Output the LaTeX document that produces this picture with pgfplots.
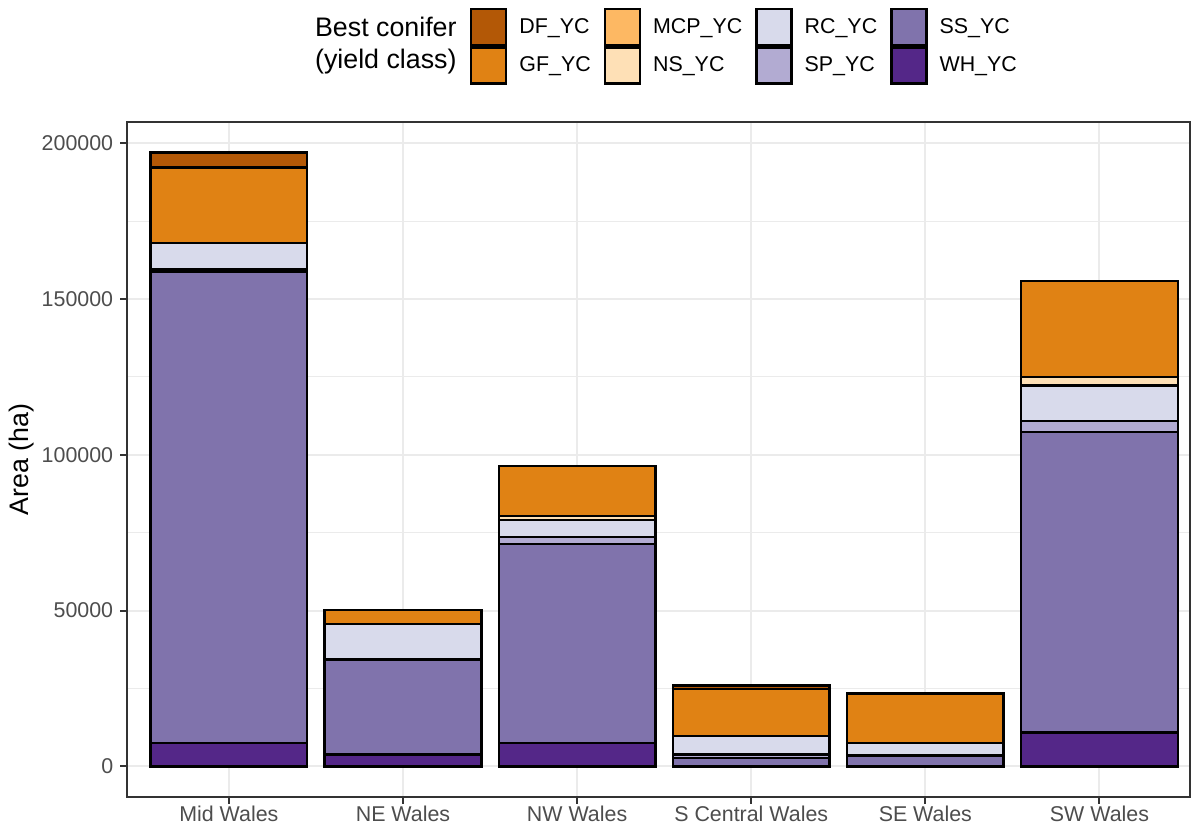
\documentclass[border=0pt]{standalone}
\usepackage{pgfplots}
\pgfplotsset{compat=1.18}
\usepackage{pgfplotstable}
\usepackage{fontspec}
\setmainfont{Liberation Sans}
\definecolor{cDF}{HTML}{B35806}
\definecolor{cGF}{HTML}{E08214}
\definecolor{cMCP}{HTML}{FDB863}
\definecolor{cNS}{HTML}{FEE0B6}
\definecolor{cRC}{HTML}{D8DAEB}
\definecolor{cSP}{HTML}{B2ABD2}
\definecolor{cSS}{HTML}{8073AC}
\definecolor{cWH}{HTML}{542788}
\definecolor{gridc}{HTML}{EBEBEB}
\definecolor{g20}{HTML}{333333}
\definecolor{g30}{HTML}{4D4D4D}
\pgfplotstableread{
x WH SS SP RC NS MCP GF DF
0 7400 151300 800 8500 0 0 24300 4800
1 3800 30500 0 11460 0 0 4480 0
2 7400 64000 2200 5400 1400 0 16000 0
3 0 2700 1100 5900 0 0 15200 1000
4 0 3500 0 4000 0 0 15900 0
5 10900 96400 3500 11440 2720 0 30880 0
}\data
\pgfplotsset{boxleg/.style={legend image code/.code={\draw[##1, draw=black, line width=1.2bp] (0bp,-9bp) rectangle (17.5bp,9bp);}}}
\begin{document}
\begin{tikzpicture}
\path[use as bounding box] (-63.5bp,-15bp) rectangle (535.5bp,398.5bp);
\begin{axis}[at={(0,0)}, anchor=south west, scale only axis,
  width=531.5bp, height=337.5bp,
  ybar stacked, bar width=0.9,
  xmin=-0.585, xmax=5.52, ymin=-9850, ymax=206850,
  xtick={0,1,2,3,4,5},
  xticklabels={Mid Wales,NE Wales,NW Wales,S Central Wales,SE Wales,SW Wales},
  ytick={0,50000,100000,150000,200000},
  minor ytick={25000,75000,125000,175000},
  scaled y ticks=false,
  /pgf/number format/.cd, fixed, 1000 sep={}, assume math mode=true, /pgfplots/.cd,
  xmajorgrids, ymajorgrids, yminorgrids,
  major grid style={color=gridc, line width=1bp},
  minor grid style={color=gridc, line width=0.5bp},
  axis line style={color=g20, line width=1bp},
  tick style={color=g20, line width=1bp},
  major tick length=3.4bp, minor tick length=0pt,
  tick align=outside, tick pos=left,
  tick label style={font=\fontsize{10.7bp}{12.8bp}\selectfont, text=g30},
  xticklabel style={yshift=2.5bp},
  ylabel={Area (ha)},
  ylabel style={font=\fontsize{13.4bp}{16bp}\selectfont, at={(axis description cs:-0.0988,0.5)}, anchor=center},
  legend columns=4,
  legend cell align=left,
  legend style={at={(0.3227,1.1689)}, anchor=north west, draw=none, fill=none,
    inner sep=0pt, outer sep=0pt, row sep=0pt,
    font=\fontsize{10.7bp}{12.8bp}\selectfont,
    /tikz/every odd column/.append style={column sep=4bp},
    /tikz/every even column/.append style={column sep=4.5bp}},
]
\addplot[fill=cWH, draw=black, line width=1.2bp, forget plot] table[x=x, y=WH]{\data};
\addplot[fill=cSS, draw=black, line width=1.2bp, forget plot] table[x=x, y=SS]{\data};
\addplot[fill=cSP, draw=black, line width=1.2bp, forget plot] table[x=x, y=SP]{\data};
\addplot[fill=cRC, draw=black, line width=1.2bp, forget plot] table[x=x, y=RC]{\data};
\addplot[fill=cNS, draw=black, line width=1.2bp, forget plot] table[x=x, y=NS]{\data};
\addplot[fill=cMCP, draw=black, line width=1.2bp, forget plot] table[x=x, y=MCP]{\data};
\addplot[fill=cGF, draw=black, line width=1.2bp, forget plot] table[x=x, y=GF]{\data};
\addplot[fill=cDF, draw=black, line width=1.2bp, forget plot] table[x=x, y=DF]{\data};
\addlegendimage{boxleg, fill=cDF}\addlegendentry{DF\_YC}
\addlegendimage{boxleg, fill=cMCP}\addlegendentry{MCP\_YC}
\addlegendimage{boxleg, fill=cRC}\addlegendentry{RC\_YC}
\addlegendimage{boxleg, fill=cSS}\addlegendentry{SS\_YC}
\addlegendimage{boxleg, fill=cGF}\addlegendentry{GF\_YC}
\addlegendimage{boxleg, fill=cNS}\addlegendentry{NS\_YC}
\addlegendimage{boxleg, fill=cSP}\addlegendentry{SP\_YC}
\addlegendimage{boxleg, fill=cWH}\addlegendentry{WH\_YC}
\end{axis}
\node[anchor=east, align=left, inner sep=0pt, font=\fontsize{13.4bp}{16bp}\selectfont] at (165bp,375.5bp) {Best conifer\\(yield class)};
\end{tikzpicture}
\end{document}
